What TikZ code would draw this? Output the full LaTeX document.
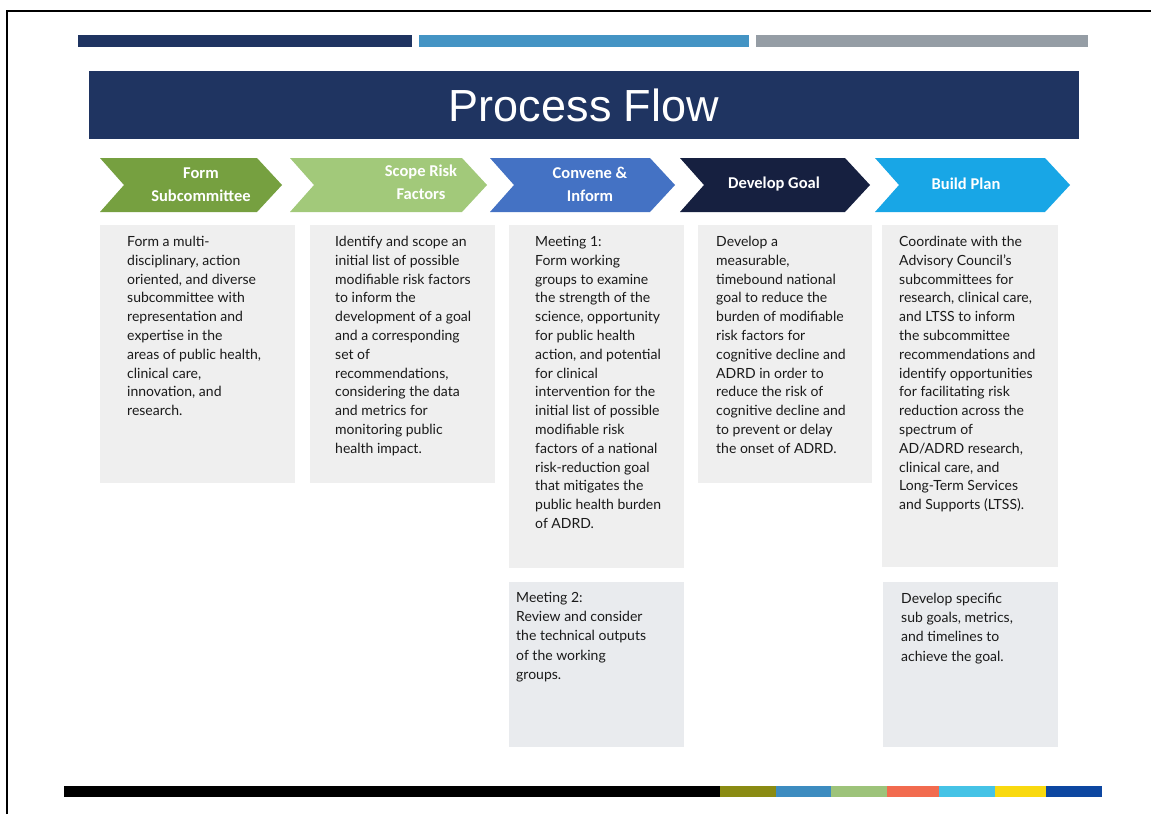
\documentclass[tikz,border=0pt]{standalone}
\usepackage{fontspec}
\setmainfont{Lato}
\newfontfamily\chevfont{Carlito}
\newfontfamily\titlefont{Liberation Sans}
\definecolor{hdr}{HTML}{1F3461}
\definecolor{barnavy}{HTML}{1F3461}
\definecolor{barblue}{HTML}{4494C4}
\definecolor{bargrey}{HTML}{959DA5}
\definecolor{cgreen}{HTML}{76A040}
\definecolor{clgreen}{HTML}{A2C97A}
\definecolor{cblue}{HTML}{4472C4}
\definecolor{cnavy}{HTML}{162040}
\definecolor{ccyan}{HTML}{18A6E6}
\definecolor{boxfill}{HTML}{EFEFEF}
\definecolor{boxfillb}{HTML}{E9EBEE}
\definecolor{txt}{HTML}{1A1A1A}
\definecolor{bolive}{HTML}{8A8B13}
\definecolor{bblue}{HTML}{3D8CC0}
\definecolor{bgreen}{HTML}{9DC37A}
\definecolor{bcoral}{HTML}{F26B4F}
\definecolor{bcyan}{HTML}{45C3E6}
\definecolor{byellow}{HTML}{F9D90F}
\definecolor{bnavy}{HTML}{0D47A1}
\begin{document}
\begin{tikzpicture}[x=1pt,y=-1pt,
  chevtext/.style={font=\chevfont\bfseries\fontsize{16.5}{23}\selectfont, text=white, align=center, inner sep=0},
  bodytext/.style={font=\fontsize{14}{18.8}\selectfont, text=txt, align=left, anchor=north west, inner sep=0},
  infobox/.style={fill=boxfill},
  infoboxb/.style={fill=boxfillb}]
\useasboundingbox (0,0) rectangle (1151,814);
\fill[white] (0,0) rectangle (1151,814);
% frame
\draw[line width=2pt] (7,814) -- (7,11) -- (1151,11);
% top bars
\fill[barnavy] (78,35) rectangle (412,47);
\fill[barblue] (419,35) rectangle (749,47);
\fill[bargrey] (756,35) rectangle (1088,47);
% header
\node (header) [fill=hdr, minimum width=990pt, minimum height=68pt, inner sep=0] at (584,105) {};
\node (title) [anchor=base, font=\titlefont\fontsize{45}{45}\selectfont, text=white, inner sep=0] at (584,121) {Process Flow};
% chevrons
\fill[cgreen] (100,158) -- (257,158) -- (282,185) -- (257,212) -- (100,212) -- (124,185) -- cycle;
\fill[clgreen] (290,158) -- (462,158) -- (487,185) -- (462,212) -- (290,212) -- (314,185) -- cycle;
\fill[cblue] (490,158) -- (650,158) -- (675,185) -- (650,212) -- (490,212) -- (514,185) -- cycle;
\fill[cnavy] (680,158) -- (845,158) -- (870,185) -- (845,212) -- (680,212) -- (704,185) -- cycle;
\fill[ccyan] (875,158) -- (1045,158) -- (1070,185) -- (1045,212) -- (875,212) -- (899,185) -- cycle;
\node (c1) [chevtext] at (201,185) {Form\\Subcommittee};
\node (c2) [chevtext] at (421,182) {Scope Risk\\Factors};
\node (c3) [chevtext] at (590,184) {Convene \&\\Inform};
\node (c4) [chevtext] at (774,184) {Develop Goal};
\node (c5) [chevtext] at (966,184) {Build Plan};
% boxes
\fill[infobox] (100,225) rectangle (295,483);
\fill[infobox] (310,225) rectangle (495,483);
\fill[infobox] (509,225) rectangle (684,568);
\fill[infobox] (698,225) rectangle (872,483);
\fill[infobox] (882,225) rectangle (1058,567);
\fill[infoboxb] (509,582) rectangle (684,747);
\fill[infoboxb] (883,582) rectangle (1058,747);
\node (t1) [bodytext] at (127,236) {Form a multi-\\disciplinary, action\\oriented, and diverse\\subcommittee with\\representation and\\expertise in the\\areas of public health,\\clinical care,\\innovation, and\\research.};
\node (t2) [bodytext] at (335,236) {Identify and scope an\\initial list of possible\\modifiable risk factors\\to inform the\\development of a goal\\and a corresponding\\set of\\recommendations,\\considering the data\\and metrics for\\monitoring public\\health impact.};
\node (t3) [bodytext] at (535,236) {Meeting 1:\\Form working\\groups to examine\\the strength of the\\science, opportunity\\for public health\\action, and potential\\for clinical\\intervention for the\\initial list of possible\\modifiable risk\\factors of a national\\risk-reduction goal\\that mitigates the\\public health burden\\of ADRD.};
\node (t4) [bodytext] at (716,236) {Develop a\\measurable,\\timebound national\\goal to reduce the\\burden of modifiable\\risk factors for\\cognitive decline and\\ADRD in order to\\reduce the risk of\\cognitive decline and\\to prevent or delay\\the onset of ADRD.};
\node (t5) [bodytext] at (899,236) {Coordinate with the\\Advisory Council's\\subcommittees for\\research, clinical care,\\and LTSS to inform\\the subcommittee\\recommendations and\\identify opportunities\\for facilitating risk\\reduction across the\\spectrum of\\AD/ADRD research,\\clinical care, and\\Long-Term Services\\and Supports (LTSS).};
\node (t6) [bodytext, font=\fontsize{14}{19.2}\selectfont] at (516,592) {Meeting 2:\\Review and consider\\the technical outputs\\of the working\\groups.};
\node (t7) [bodytext, font=\fontsize{14}{19.2}\selectfont] at (901,593) {Develop specific\\sub goals, metrics,\\and timelines to\\achieve the goal.};
% bottom bar
\fill[black] (64,786) rectangle (720,797);
\fill[bolive] (720,786) rectangle (776,797);
\fill[bblue] (776,786) rectangle (831,797);
\fill[bgreen] (831,786) rectangle (887,797);
\fill[bcoral] (887,786) rectangle (939,797);
\fill[bcyan] (939,786) rectangle (995,797);
\fill[byellow] (995,786) rectangle (1046,797);
\fill[bnavy] (1046,786) rectangle (1102,797);
\end{tikzpicture}
\end{document}
